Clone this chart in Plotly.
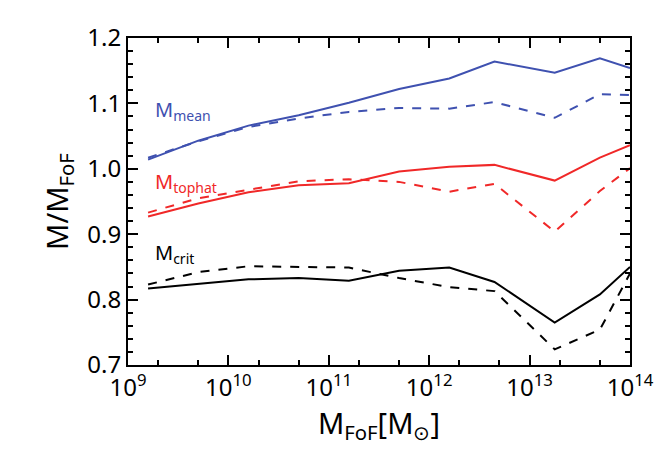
import plotly.graph_objects as go

log_mass = [9.2, 9.7, 10.2, 10.7, 11.2, 11.7, 12.2, 12.65, 13.25, 13.7, 14.0]
mean_solid = [1.014, 1.043, 1.066, 1.082, 1.101, 1.122, 1.138, 1.164, 1.147, 1.169, 1.154]
mean_dash = [1.017, 1.042, 1.064, 1.077, 1.087, 1.093, 1.092, 1.102, 1.078, 1.114, 1.113]
tophat_solid = [0.927, 0.947, 0.964, 0.975, 0.978, 0.996, 1.003, 1.006, 0.982, 1.017, 1.036]
tophat_dash = [0.933, 0.955, 0.968, 0.981, 0.984, 0.980, 0.965, 0.977, 0.904, 0.966, 1.001]
crit_solid = [0.817, 0.824, 0.831, 0.833, 0.829, 0.844, 0.849, 0.827, 0.765, 0.808, 0.850]
crit_dash = [0.823, 0.842, 0.851, 0.850, 0.849, 0.833, 0.819, 0.813, 0.724, 0.754, 0.840]
tick_vals = [1e9, 1e10, 1e11, 1e12, 1e13, 1e14]
tick_text = ["10<sup>9</sup>", "10<sup>10</sup>", "10<sup>11</sup>", "10<sup>12</sup>", "10<sup>13</sup>", "10<sup>14</sup>"]
y_ticks = [0.7, 0.8, 0.9, 1.0, 1.1, 1.2]

BLUE, RED, BLACK = "#3f51b0", "#f02828", "#000000"
x = [10 ** v for v in log_mass]

fig = go.Figure()
for ys, col, dash in [
    (mean_solid, BLUE, "solid"), (mean_dash, BLUE, "dash"),
    (tophat_solid, RED, "solid"), (tophat_dash, RED, "dash"),
    (crit_solid, BLACK, "solid"), (crit_dash, BLACK, "dash"),
]:
    fig.add_scatter(x=x, y=ys, mode="lines", line=dict(color=col, width=2, dash=dash),
                    showlegend=False)

labels = [("M<sub>mean</sub>", 1.115, BLUE), ("M<sub>tophat</sub>", 1.005, RED),
          ("M<sub>crit</sub>", 0.895, BLACK)]
for txt, yv, col in labels:
    fig.add_annotation(x=9.25, y=yv, text=txt, showarrow=False, xanchor="left",
                       yanchor="top", font=dict(color=col, size=20))

axis = dict(showline=True, linecolor="black", linewidth=2, mirror="ticks", ticks="inside",
            ticklen=10, tickwidth=2, tickcolor="black", showgrid=False, zeroline=False)
fig.update_xaxes(type="log", range=[9, 14], tickvals=tick_vals, ticktext=tick_text,
                 minor=dict(ticks="inside", ticklen=5, tickwidth=1.5, tickcolor="black"),
                 title=dict(text="M<sub>FoF</sub>[M<sub>⊙</sub>]", standoff=8), **axis)
fig.update_yaxes(range=[0.7, 1.2], tickvals=y_ticks, ticktext=["0.7", "0.8", "0.9", "1.0", "1.1", "1.2"],
                 minor=dict(ticks="inside", ticklen=5, tickwidth=1.5, tickcolor="black", dtick=0.02),
                 title=dict(text="M/M<sub>FoF</sub>", standoff=10), **axis)
fig.update_layout(width=662, height=452, plot_bgcolor="white", paper_bgcolor="white",
                  margin=dict(l=120, r=40, t=20, b=95),
                  font=dict(family="Noto Sans", size=24, color="black"))
fig.write_html("out.html")
